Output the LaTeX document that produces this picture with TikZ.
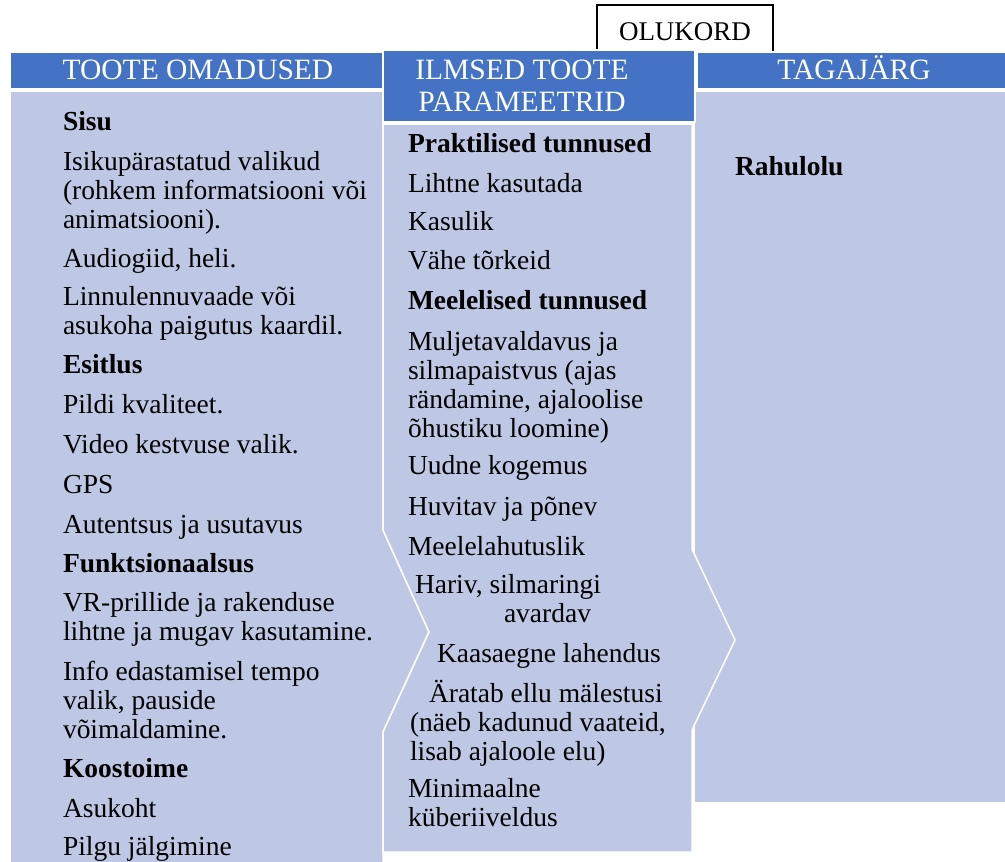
\documentclass[tikz,border=0pt]{standalone}
\usepackage{fontspec}
\setmainfont{Liberation Serif}
\definecolor{hdrblue}{HTML}{4472C4}
\definecolor{bodyblue}{RGB}{190,200,228}
\newcommand{\mlines}[1]{\begin{tabular}[t]{@{}l@{}}#1\end{tabular}}
\tikzset{
  hdr/.style={fill=hdrblue, draw=white, line width=1.5pt},
  bodyfill/.style={fill=bodyblue, draw=white, line width=1.5pt},
  txt/.style={anchor=base west, inner sep=0pt, outer sep=0pt, font=\fontsize{27.5}{29}\selectfont},
  btxt/.style={txt, font=\fontsize{27.5}{29}\selectfont\bfseries},
  htxt/.style={anchor=base, inner sep=0pt, text=white, font=\fontsize{29.5}{32}\selectfont},
  olbox/.style={draw=black, line width=1.3pt}
}
\begin{document}
\begin{tikzpicture}[x=1pt,y=-1pt]
\useasboundingbox (0,0) rectangle (1005,862);
% OLUKORD box (bottom hidden by middle header)
\draw[olbox] (597,60) -- (597,5) -- (773,5) -- (773,60);
\node[anchor=base, inner sep=0pt, font=\fontsize{27}{30}\selectfont] (olukord) at (685,41) {OLUKORD};
% bodies
\path[bodyfill] (10,91) -- (383,91) -- (383,530) -- (429,632) -- (383,732) -- (383,870) -- (10,870) -- cycle;
\path[bodyfill] (694,91) -- (1010,91) -- (1010,803) -- (694,803) -- cycle;
\path[bodyfill] (383,124) -- (692,124) -- (692,549) -- (735,640) -- (692,730) -- (692,852) -- (383,852) -- (383,732) -- (429,632) -- (383,530) -- cycle;
% headers
\path[hdr] (10,52) rectangle (384,89);
\path[hdr] (697,52) rectangle (1010,89);
\path[hdr] (383,50) rectangle (695,122);
\node[htxt] (h1) at (198,79) {TOOTE OMADUSED};
\node[htxt] (h2a) at (522,79) {ILMSED TOOTE};
\node[htxt] (h2b) at (522,111) {PARAMEETRID};
\node[htxt] (h3) at (854,79) {TAGAJÄRG};
% left column
\node[btxt] (l1) at (63,130) {Sisu};
\node[txt] (l2) at (63,170) {\mlines{Isikupärastatud valikud\\(rohkem informatsiooni või\\animatsiooni).}};
\node[txt] (l3) at (63,267) {Audiogiid, heli.};
\node[txt] (l4) at (63,305) {\mlines{Linnulennuvaade või\\asukoha paigutus kaardil.}};
\node[btxt] (l5) at (63,373) {Esitlus};
\node[txt] (l6) at (63,413) {Pildi kvaliteet.};
\node[txt] (l7) at (63,453) {Video kestvuse valik.};
\node[txt] (l8) at (63,493) {GPS};
\node[txt] (l9) at (63,533) {Autentsus ja usutavus};
\node[btxt] (l10) at (63,572) {Funktsionaalsus};
\node[txt] (l11) at (63,611) {\mlines{VR-prillide ja rakenduse\\lihtne ja mugav kasutamine.}};
\node[txt] (l12) at (63,680) {\mlines{Info edastamisel tempo\\valik, pauside\\võimaldamine.}};
\node[btxt] (l13) at (63,777) {Koostoime};
\node[txt] (l14) at (63,817) {Asukoht};
\node[txt] (l15) at (63,855) {Pilgu jälgimine};
% middle column
\node[btxt] (m1) at (408,152) {Praktilised tunnused};
\node[txt] (m2) at (408,192) {Lihtne kasutada};
\node[txt] (m3) at (408,230) {Kasulik};
\node[txt] (m4) at (408,269) {Vähe tõrkeid};
\node[btxt] (m5) at (408,309) {Meelelised tunnused};
\node[txt] (m6) at (408,350) {\mlines{Muljetavaldavus ja\\silmapaistvus (ajas\\rändamine, ajaloolise\\õhustiku loomine)}};
\node[txt] (m7) at (408,474) {Uudne kogemus};
\node[txt] (m8) at (408,515) {Huvitav ja põnev};
\node[txt] (m9) at (408,555) {Meelelahutuslik};
\node[txt] (m10) at (415,593) {\mlines{Hariv, silmaringi\\\hspace*{89pt}avardav}};
\node[txt] (m11) at (437,662) {Kaasaegne lahendus};
\node[txt] (m12) at (410,702) {\mlines{\hspace*{19pt}Äratab ellu mälestusi\\(näeb kadunud vaateid,\\lisab ajaloole elu)}};
\node[txt] (m13) at (408,797) {\mlines{Minimaalne\\küberiiveldus}};
% right column
\node[btxt] (r1) at (735,175) {Rahulolu};
\end{tikzpicture}
\end{document}
